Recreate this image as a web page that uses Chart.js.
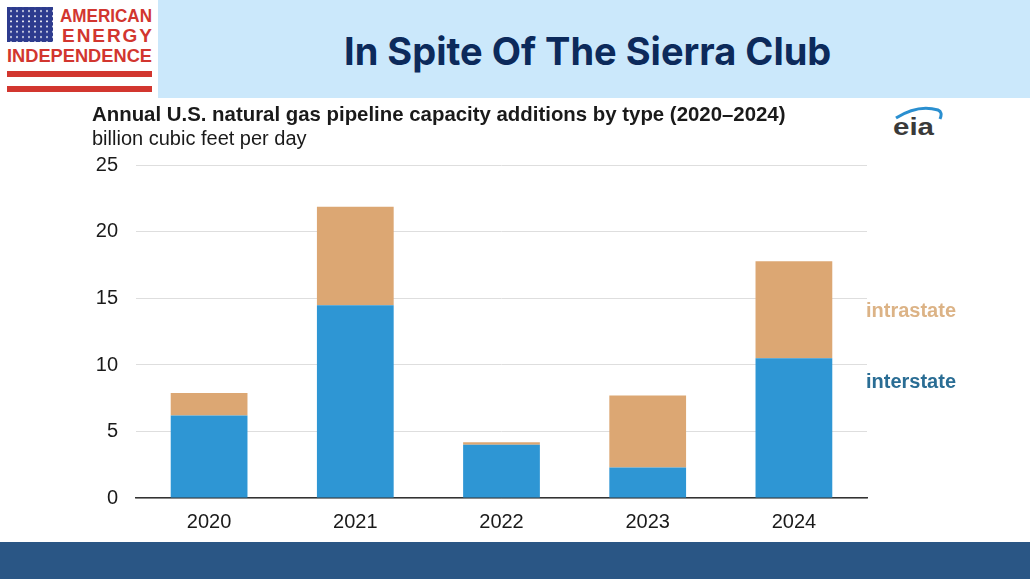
<!DOCTYPE html>
<html>
<head>
<meta charset="utf-8">
<script src="https://cdn.jsdelivr.net/npm/chart.js@4"></script>
<style>
  html, body { margin: 0; padding: 0; background: #fff; }
  body { width: 1030px; height: 579px; position: relative; overflow: hidden; font-family: "Liberation Sans", Arial, sans-serif; }
  #band { position: absolute; left: 158px; top: 0; width: 872px; height: 98px; background: #cbe8fb; }
  #headline { position: absolute; left: 344px; top: 0; height: 98px; line-height: 102px; white-space: nowrap;
    font-family: Inter, "Open Sans", sans-serif; font-weight: 700; font-size: 38px; color: #0c2a5b; }
  #footer { position: absolute; left: 0; top: 542px; width: 1030px; height: 37px; background: #2a5685; }
  #logo { position: absolute; left: 0; top: 0; }
  #eia { position: absolute; left: 888px; top: 104px; }
  #wrap { position: absolute; left: 0; top: 0; width: 1030px; height: 579px; }
</style>
</head>
<body>
<div id="band"></div>
<div id="headline">In Spite Of The Sierra Club</div>
<svg id="logo" width="158" height="98" xmlns="http://www.w3.org/2000/svg">
  <defs>
    <pattern id="stars" x="9" y="9" width="6" height="5.2" patternUnits="userSpaceOnUse">
      <circle cx="2" cy="2" r="1" fill="#fff"/>
    </pattern>
  </defs>
  <rect x="7" y="7" width="46" height="35" fill="#2d3b8e"/>
  <rect x="7" y="7" width="46" height="35" fill="url(#stars)"/>
  <text x="60" y="22" font-family="'Liberation Sans', Arial, sans-serif" font-weight="700" font-size="19" fill="#d2362f" textLength="92" lengthAdjust="spacingAndGlyphs">AMERICAN</text>
  <text x="62" y="42" font-family="'Liberation Sans', Arial, sans-serif" font-weight="700" font-size="19" fill="#d2362f" textLength="90" lengthAdjust="spacing">ENERGY</text>
  <text x="7" y="62" font-family="'Liberation Sans', Arial, sans-serif" font-weight="700" font-size="19" fill="#d2362f" textLength="145" lengthAdjust="spacingAndGlyphs">INDEPENDENCE</text>
  <rect x="7" y="71" width="145" height="6" fill="#d2362f"/>
  <rect x="7" y="86" width="145" height="6" fill="#d2362f"/>
</svg>
<svg id="eia" width="62" height="38" xmlns="http://www.w3.org/2000/svg">
  <path d="M8 14 Q30 0 50 6 Q55 8 52 15" stroke="#2a8fd0" stroke-width="3" fill="none"/>
  <text x="5" y="31" font-family="'Liberation Sans', Arial, sans-serif" font-weight="700" font-size="24" fill="#3a3a3a" textLength="41" lengthAdjust="spacingAndGlyphs">eia</text>
</svg>
<div id="footer"></div>
<div id="wrap"><canvas id="chart"></canvas></div>
<script>
// data (Bcf/d)
const years = ['2020', '2021', '2022', '2023', '2024'];
const interstate = [6.2, 14.5, 4.0, 2.3, 10.5];
const intrastate = [1.7, 7.4, 0.2, 5.4, 7.3];
const yTicks = [0, 5, 10, 15, 20, 25];

const FONT = '"Liberation Sans", Arial, sans-serif';

// series names drawn to the right of the plot instead of a legend
const sideLabels = {
  id: 'sideLabels',
  afterDraw(chart) {
    const ctx = chart.ctx;
    const y = chart.scales.y;
    const x0 = chart.chartArea.right - 1;
    ctx.save();
    ctx.font = 'bold 20px ' + FONT;
    ctx.textAlign = 'left';
    ctx.textBaseline = 'middle';
    ctx.fillStyle = '#dcb386';
    ctx.fillText('intrastate', x0, y.getPixelForValue(14.05));
    ctx.fillStyle = '#2a6d94';
    ctx.fillText('interstate', x0, y.getPixelForValue(8.7));
    ctx.restore();
  }
};

const ctx = document.getElementById('chart').getContext('2d');
const chart = new Chart(ctx, {
  type: 'bar',
  data: {
    labels: years,
    datasets: [{
      label: 'interstate',
      data: interstate,
      backgroundColor: '#2e96d4',
      categoryPercentage: 1,
      barPercentage: 0.525
    }, {
      label: 'intrastate',
      data: intrastate,
      backgroundColor: '#dca773',
      categoryPercentage: 1,
      barPercentage: 0.525
    }]
  },
  options: {
    responsive: true,
    maintainAspectRatio: false,
    animation: false,
    layout: { padding: { left: 92, right: 163, top: 103, bottom: 45 } },
    plugins: {
      legend: { display: false },
      tooltip: { enabled: false },
      title: {
        display: true,
        text: 'Annual U.S. natural gas pipeline capacity additions by type (2020\u20132024)',
        align: 'start',
        color: '#1a1a1a',
        font: { family: FONT, size: 20.4, weight: 'bold', lineHeight: 1.2 },
        padding: { top: 0, bottom: 0 }
      },
      subtitle: {
        display: true,
        text: 'billion cubic feet per day',
        align: 'start',
        color: '#1a1a1a',
        font: { family: FONT, size: 20, lineHeight: 1.2 },
        padding: { top: 0, bottom: 14 }
      }
    },
    scales: {
      x: {
        stacked: true,
        afterFit(scale) { scale.height = 36; },
        grid: { display: false, drawTicks: false },
        border: { display: true, color: '#333', width: 1.5 },
        ticks: { color: '#1a1a1a', padding: 12, font: { family: FONT, size: 20 } }
      },
      y: {
        stacked: true,
        min: 0,
        max: 25,
        afterFit(scale) { scale.width = 44; },
        afterBuildTicks(scale) { scale.ticks = yTicks.map(v => ({ value: v })); },
        grid: { color: '#dedede', lineWidth: 1, drawTicks: false },
        border: { display: false },
        ticks: { color: '#1a1a1a', padding: 18, font: { family: FONT, size: 20 } }
      }
    }
  },
  plugins: [sideLabels]
});
</script>
</body>
</html>
